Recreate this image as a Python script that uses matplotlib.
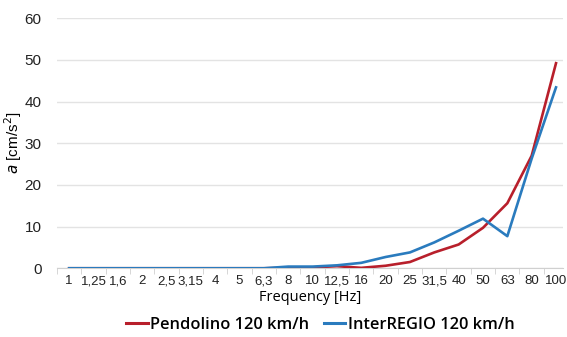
import numpy as np
import matplotlib.pyplot as plt
from matplotlib.lines import Line2D

freq = ["1", "1,25", "1,6", "2", "2,5", "3,15", "4", "5", "6,3", "8", "10",
        "12,5", "16", "20", "25", "31,5", "40", "50", "63", "80", "100"]
pendolino = [0, 0, 0, 0, 0, 0, 0, 0, 0, 0.1, 0.2, 0.5, 0.1, 0.6, 1.5,
             3.8, 5.7, 9.7, 15.6, 27.0, 49.2]
interregio = [0, 0, 0, 0, 0, 0, 0, 0, 0, 0.4, 0.4, 0.7, 1.3, 2.7, 3.8,
              6.2, 9.0, 11.9, 7.7, 26.3, 43.4]

red = "#B81F2B"
blue = "#2A7BBE"

fig = plt.figure(figsize=(5.67, 3.37), dpi=100)
ax = fig.add_axes([0.1005, 0.204, 0.893, 0.742])

x = np.arange(len(freq))
ax.plot(x, pendolino, color=red, lw=1.9, zorder=3)
ax.plot(x, interregio, color=blue, lw=1.9, zorder=3)

ax.set_ylim(0, 60)
ax.set_yticks(range(0, 61, 10))
ax.set_xlim(-0.5, 20.3)
ax.set_xticks(x)
ax.set_xticklabels(freq)
ax.set_xticks(np.arange(-0.5, 20.5, 1), minor=True)
ax.tick_params(axis="x", which="major", length=0, pad=5, labelsize=9.5)
ax.tick_params(axis="x", which="minor", length=4, color="#D0D0D0")
ax.tick_params(axis="y", length=0, pad=11, labelsize=11)
for lbl in ax.get_xticklabels() + ax.get_yticklabels():
    lbl.set_family("Liberation Sans")
    lbl.set_color("#222222")

ax.grid(axis="y", color="#E3E3E3", lw=1)
ax.set_axisbelow(True)
for s in ["top", "right", "left"]:
    ax.spines[s].set_visible(False)
ax.spines["bottom"].set_color("#D0D0D0")

ax.set_xlabel("Frequency [Hz]", family="Open Sans", fontsize=10.5, labelpad=2)
ax.set_ylabel(r"$\mathit{a}$ [cm/s$^2$]", family="Liberation Sans", fontsize=11)
ax.yaxis.set_label_coords(-0.066, 0.5)

handles = [Line2D([], [], color=red, lw=2.2), Line2D([], [], color=blue, lw=2.2)]
fig.legend(handles, ["Pendolino 120 km/h", "InterREGIO 120 km/h"],
           loc="center", bbox_to_anchor=(0.565, 0.035), ncol=2, frameon=False,
           prop={"family": "Open Sans", "weight": "semibold", "size": 11.8},
           handlelength=1.3, handletextpad=0.15, columnspacing=0.9)

fig.savefig("out.png", dpi=100)
